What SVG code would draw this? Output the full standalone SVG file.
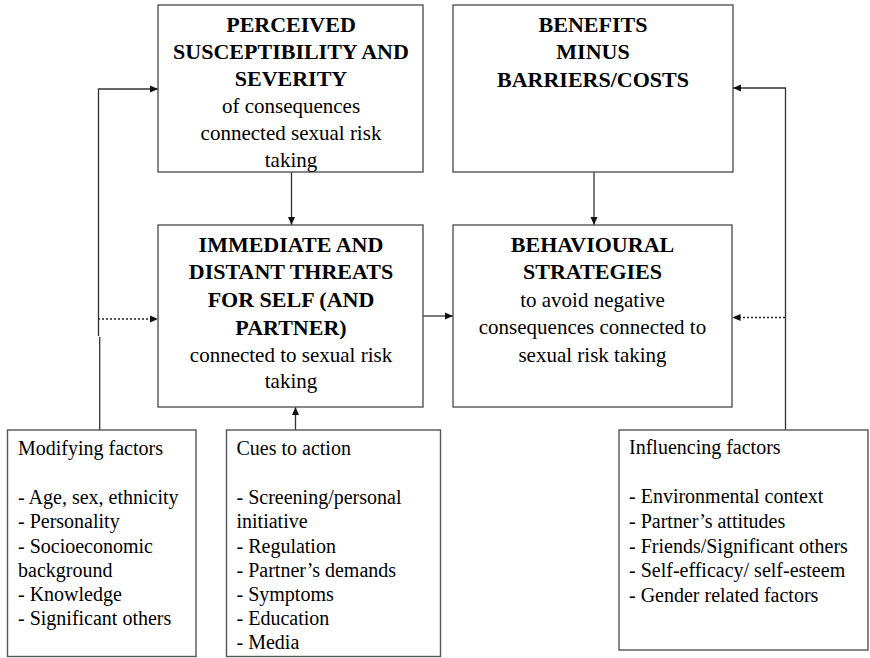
<svg xmlns="http://www.w3.org/2000/svg" width="870" height="658" viewBox="0 0 870 658">
<defs>
<marker id="ah" viewBox="0 0 8 8" refX="8" refY="4" markerWidth="8" markerHeight="8" markerUnits="userSpaceOnUse" orient="auto">
<path d="M0,0.5 L8,4 L0,7.5 Z" fill="#111"/>
</marker>
<style>
.box{fill:#fff;stroke:#555;stroke-width:1.4}
.ln{fill:none;stroke:#333;stroke-width:1.3}
.dot{fill:none;stroke:#222;stroke-width:1.6;stroke-dasharray:2,2}
text{font-family:'Liberation Serif',serif;fill:#000}
.b{font-weight:bold;font-size:22px;text-anchor:middle}
.r{font-size:21px;text-anchor:middle}
.s{font-size:20px}
</style>
</defs>
<rect width="870" height="658" fill="#fff"/>
<g id="connectors">
<path class="ln" d="M98.5,336 V89 H158" marker-end="url(#ah)"/>
<path class="ln" d="M99.7,430 V337"/>
<path class="dot" d="M98,319 H158" marker-end="url(#ah)"/>
<path class="ln" d="M291.5,172 V225" marker-end="url(#ah)"/>
<path class="ln" d="M594,172 V225" marker-end="url(#ah)"/>
<path class="ln" d="M423,316 H453" marker-end="url(#ah)"/>
<path class="ln" d="M295.5,430 V407" marker-end="url(#ah)"/>
<path class="ln" d="M785.5,430 V88 H733" marker-end="url(#ah)"/>
<path class="dot" d="M785,317.5 H732.5" marker-end="url(#ah)"/>
</g>
<g id="perceived" font-family="Liberation Serif, serif">
<rect class="box" x="158" y="5" width="265" height="167"/>
<text class="b" x="291" y="31.5">PERCEIVED</text>
<text class="b" x="291" y="58.5">SUSCEPTIBILITY AND</text>
<text class="b" x="291" y="85.5">SEVERITY</text>
<text class="r" x="291" y="112.5">of consequences</text>
<text class="r" x="291" y="140">connected sexual risk</text>
<text class="r" x="291" y="166.5">taking</text>
</g>
<g id="benefits">
<rect class="box" x="453" y="5" width="280" height="167"/>
<text class="b" x="593" y="31.5">BENEFITS</text>
<text class="b" x="593" y="59">MINUS</text>
<text class="b" x="593" y="86.5">BARRIERS/COSTS</text>
</g>
<g id="threats">
<rect class="box" x="158" y="225" width="265" height="182"/>
<text class="b" x="291" y="251.5">IMMEDIATE AND</text>
<text class="b" x="291" y="279">DISTANT THREATS</text>
<text class="b" x="291" y="307">FOR SELF (AND</text>
<text class="b" x="291" y="334.5">PARTNER)</text>
<text class="r" x="291" y="361.5">connected to sexual risk</text>
<text class="r" x="291" y="388">taking</text>
</g>
<g id="strategies">
<rect class="box" x="453" y="225" width="279" height="182"/>
<text class="b" x="592.5" y="251.5">BEHAVIOURAL</text>
<text class="b" x="592.5" y="279">STRATEGIES</text>
<text class="r" x="592.5" y="306.5">to avoid negative</text>
<text class="r" x="592.5" y="334">consequences connected to</text>
<text class="r" x="592.5" y="361.5">sexual risk taking</text>
</g>
<g id="modifying">
<rect class="box" x="7.5" y="430" width="188.5" height="226.5"/>
<text class="s" x="18" y="455">Modifying factors</text>
<text class="s" x="18" y="503.5">- Age, sex, ethnicity</text>
<text class="s" x="18" y="528">- Personality</text>
<text class="s" x="18" y="552.5">- Socioeconomic</text>
<text class="s" x="18" y="576.5">background</text>
<text class="s" x="18" y="601">- Knowledge</text>
<text class="s" x="18" y="625">- Significant others</text>
</g>
<g id="cues">
<rect class="box" x="226.5" y="430" width="214" height="226.5"/>
<text class="s" x="236.5" y="455">Cues to action</text>
<text class="s" x="236.5" y="503.5">- Screening/personal</text>
<text class="s" x="236.5" y="528">initiative</text>
<text class="s" x="236.5" y="552.5">- Regulation</text>
<text class="s" x="236.5" y="576.5">- Partner’s demands</text>
<text class="s" x="236.5" y="601">- Symptoms</text>
<text class="s" x="236.5" y="625">- Education</text>
<text class="s" x="236.5" y="649">- Media</text>
</g>
<g id="influencing">
<rect class="box" x="619" y="430" width="249" height="220"/>
<text class="s" x="629" y="454">Influencing factors</text>
<text class="s" x="629" y="503">- Environmental context</text>
<text class="s" x="629" y="528">- Partner’s attitudes</text>
<text class="s" x="629" y="552.5">- Friends/Significant others</text>
<text class="s" x="629" y="577">- Self-efficacy/ self-esteem</text>
<text class="s" x="629" y="601.5">- Gender related factors</text>
</g>
</svg>
